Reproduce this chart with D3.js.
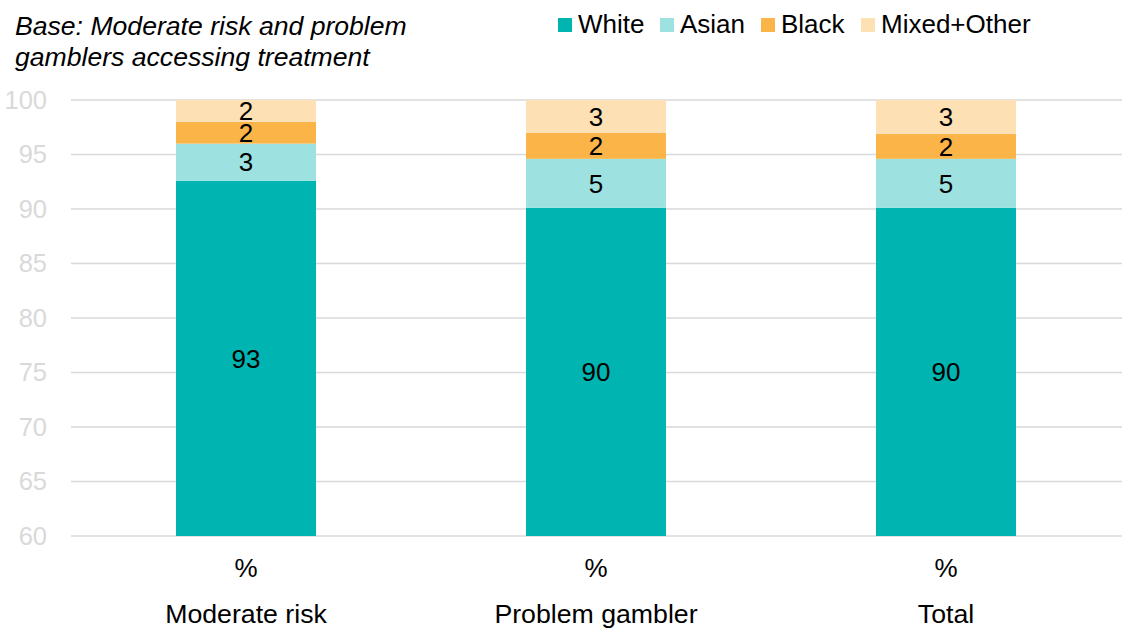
<!DOCTYPE html>
<html><head><meta charset="utf-8">
<script src="https://cdn.jsdelivr.net/npm/d3@7"></script>
<style>body{margin:0;background:#fff}svg{display:block;font-family:"Liberation Sans",Arial,sans-serif}</style>
</head><body><svg id="c" width="1122" height="628"></svg>
<script>
const categories = ["Moderate risk", "Problem gambler", "Total"];
const seriesNames = ["White", "Asian", "Black", "Mixed+Other"];
const white = [92.6, 90.1, 90.1];
const asian = [3.4, 4.5, 4.5];
const black = [2.0, 2.4, 2.3];
const mixed = [2.0, 3.0, 3.1];
const yTicks = [60, 65, 70, 75, 80, 85, 90, 95, 100];
const colors = ["#00B5B1", "#9DE2E0", "#FBB447", "#FDE0B4"];

const svg = d3.select("#c");
const x = d3.scaleBand().domain(categories).range([71, 1121]).paddingInner(0.6).paddingOuter(0.3);
const y = d3.scaleLinear().domain([60, 100]).range([536, 100]);

// gridlines
svg.append("g").selectAll("line").data(yTicks).join("line")
  .attr("x1", 71).attr("x2", 1122)
  .attr("y1", d => y(d)).attr("y2", d => y(d))
  .attr("stroke", "#d9d9d9").attr("stroke-width", 1.3);

// y axis labels
const yAxis = d3.axisLeft(y).tickValues(yTicks).tickSize(0).tickPadding(0);
const ga = svg.append("g").attr("transform", "translate(47,0)").call(yAxis);
ga.select(".domain").remove();
ga.selectAll("text").attr("font-size", 25.5).attr("fill", "#d9d9d9")
  .attr("font-family", "Liberation Sans, Arial, sans-serif");

// stacked data
const rows = categories.map((c, i) => ({cat: c, White: white[i], Asian: asian[i], Black: black[i], "Mixed+Other": mixed[i]}));
const stack = d3.stack().keys(seriesNames)(rows);

const layers = svg.append("g").selectAll("g").data(stack).join("g")
  .attr("fill", (d, i) => colors[i]);
layers.selectAll("rect").data(d => d.map(v => ({v, key: d.key}))).join("rect")
  .attr("x", d => x(d.v.data.cat))
  .attr("width", x.bandwidth())
  .attr("y", d => y(Math.min(d.v[1], 100)))
  .attr("height", d => y(Math.max(d.v[0], 60)) - y(Math.min(d.v[1], 100)));

// data labels
stack.forEach(layer => {
  svg.append("g").selectAll("text").data(layer).join("text")
    .attr("x", d => x(d.data.cat) + x.bandwidth() / 2)
    .attr("y", d => (y(Math.max(d[0], 60)) + y(Math.min(d[1], 100))) / 2 + 9.3)
    .attr("text-anchor", "middle").attr("font-size", 26).attr("fill", "#000")
    .text(d => Math.round(d[1] - d[0]));
});

// x labels
const gx = svg.append("g");
categories.forEach(c => {
  gx.append("text").attr("x", x(c) + x.bandwidth() / 2).attr("y", 577)
    .attr("text-anchor", "middle").attr("font-size", 26).text("%");
  gx.append("text").attr("x", x(c) + x.bandwidth() / 2).attr("y", 623)
    .attr("text-anchor", "middle").attr("font-size", 26.7).text(c);
});

// title
const t = svg.append("text").attr("font-style", "italic").attr("font-size", 26.6).attr("fill", "#000");
t.append("tspan").attr("x", 15).attr("y", 35).text("Base: Moderate risk and problem");
t.append("tspan").attr("x", 15).attr("y", 65.5).text("gamblers accessing treatment");

// legend
const legX = [558, 660, 761, 861];
const lg = svg.append("g").selectAll("g").data(seriesNames).join("g")
  .attr("transform", (d, i) => `translate(${legX[i]},0)`);
lg.append("rect").attr("x", 0).attr("y", 18).attr("width", 14).attr("height", 14)
  .attr("fill", (d, i) => colors[i]);
lg.append("text").attr("x", 20).attr("y", 33).attr("font-size", 26).text(d => d);
</script></body></html>
